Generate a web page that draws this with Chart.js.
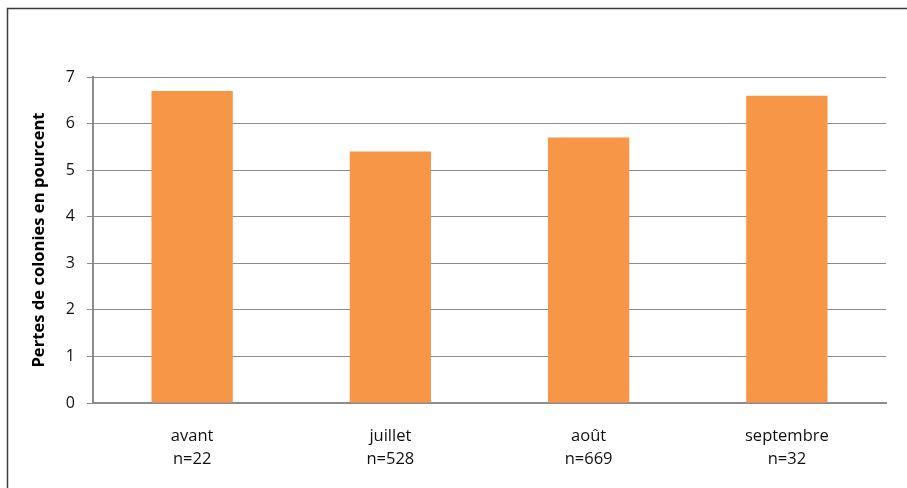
<!DOCTYPE html>
<html>
<head>
<meta charset="utf-8">
<script src="https://cdn.jsdelivr.net/npm/chart.js@4"></script>
<style>
  html, body { margin: 0; padding: 0; background: #fff; }
  #wrap { width: 907px; height: 488px; position: relative; }
</style>
</head>
<body>
<div id="wrap"><canvas id="myChart"></canvas></div>
<script>
const categories = [["avant", "n=22"], ["juillet", "n=528"], ["août", "n=669"], ["septembre", "n=32"]];
const lossValues = [6.7, 5.4, 5.7, 6.6];
const yTicks = [0, 1, 2, 3, 4, 5, 6, 7];
const yTitle = "Pertes de colonies en pourcent";

// outer frame: only top and left edges are visible in the picture
const framePlugin = {
    id: "frame",
    afterDraw: (chart) => {
        const ctx = chart.ctx;
        ctx.save();
        ctx.strokeStyle = "#3a3a3a";
        ctx.lineWidth = 1.5;
        ctx.beginPath();
        ctx.moveTo(7.5, chart.height);
        ctx.lineTo(7.5, 8.5);
        ctx.lineTo(chart.width, 8.5);
        ctx.stroke();
        ctx.restore();
    },
};

const font = "'Open Sans', Lato, sans-serif";

new Chart(document.getElementById("myChart"), {
    type: "bar",
    data: {
        labels: categories,
        datasets: [
            {
                data: lossValues,
                backgroundColor: "#f79646",
                barPercentage: 0.41,
                categoryPercentage: 1,
            },
        ],
    },
    options: {
        responsive: true,
        maintainAspectRatio: false,
        animation: false,
        layout: { padding: { left: 0, top: 77, right: 21, bottom: 0 } },
        plugins: {
            legend: { display: false },
            tooltip: { enabled: false },
        },
        scales: {
            x: {
                grid: { display: false, drawTicks: false },
                border: { display: true, color: "#8c8c8c", width: 2 },
                ticks: {
                    color: "#111",
                    font: { family: font, size: 16.5, lineHeight: 1.4 },
                    padding: 22,
                    maxRotation: 0,
                },
                afterFit: (scale) => { scale.height = 85; },
            },
            y: {
                min: 0,
                max: 7,
                afterBuildTicks: (scale) => {
                    scale.ticks = yTicks.map((v) => ({ value: v }));
                },
                grid: {
                    color: "#8c8c8c",
                    lineWidth: 1,
                    tickLength: 6,
                },
                border: { display: true, color: "#8c8c8c", width: 2 },
                ticks: {
                    color: "#111",
                    font: { family: font, size: 16 },
                    padding: 12,
                },
                title: {
                    display: true,
                    text: yTitle,
                    color: "#000",
                    font: { family: font, size: 16.6, weight: "bold", lineHeight: 1.2 },
                    padding: { top: 29, bottom: 0 },
                },
                afterFit: (scale) => { scale.width = 93; },
            },
        },
    },
    plugins: [framePlugin],
});
</script>
</body>
</html>
